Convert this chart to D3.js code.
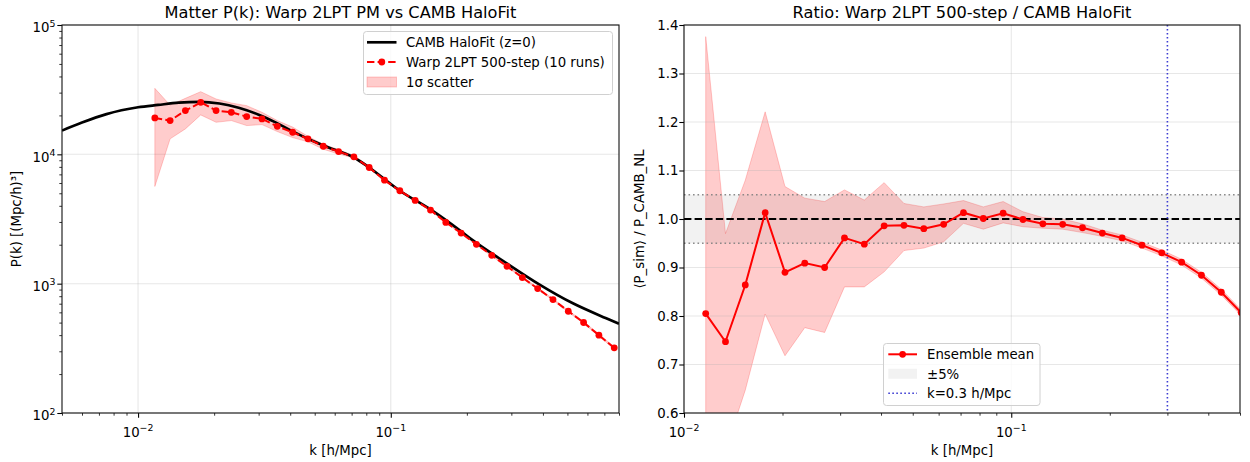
<!DOCTYPE html>
<html><head><meta charset="utf-8">
<script src="https://cdn.jsdelivr.net/npm/d3@7"></script>
<style>
html,body{margin:0;padding:0;background:#fff}
svg{display:block}
svg text{font-family:"DejaVu Sans",sans-serif;fill:#000}
</style></head><body>
<svg id="c" width="1250" height="462"></svg>
<script>
// ---------------- data ----------------
const kBins = [0.01165,0.01339,0.01539,0.01770,0.02035,0.02339,0.02690,0.03093,0.03556,0.04089,
  0.04701,0.05405,0.06214,0.07145,0.08215,0.09445,0.1086,0.1249,0.1436,0.1651,
  0.1898,0.2182,0.2509,0.2884,0.3316,0.3813,0.4384,0.5040,0.5794,0.6662,0.7660];
const simP  = [19120,18230,21780,25230,21780,21130,19570,18790,16470,14810,
  13170,11550,10510,9566,7907,6313,5229,4400,3705,2977,
  2462,2014,1656,1362,1115,917,754,612,501,400,319];
const simLo = [5644,13170,15730,20170,17690,18230,16680,16980,15000,13470,
  12490,10950,10060,9360,7745,6190,5145,4360,3663,2947,
  2430,1988,1634,1344,1100,904,743,603,493,393,313];
const simHi = [32360,24000,27100,30520,26790,24950,23800,21130,18230,16250,
  13790,11940,10890,9800,8110,6460,5307,4457,3742,3002,
  2495,2040,1678,1380,1130,930,765,621,509,407,325];
const cambK = [0.005,0.006,0.0075,0.01,0.012,0.0145,0.0175,0.021,0.025,0.03,
  0.035,0.04,0.05,0.06,0.07145,0.08215,0.1086,0.1436,0.1898,0.2114,
  0.2866,0.388,0.5255,0.712,0.8];
const cambP = [15260,17600,20460,23100,24100,25100,25450,24700,22900,20250,
  17650,15400,12500,10850,9450,7910,5229,3746,2537,2162,
  1444,984,705,540,490];
const ratioMean = [0.805,0.747,0.864,1.013,0.890,0.909,0.900,0.961,0.948,0.986,
  0.987,0.980,0.989,1.013,1.001,1.012,0.999,0.990,0.989,0.982,
  0.971,0.961,0.946,0.930,0.911,0.884,0.849,0.807,0.760,0.710,0.660];
const ratioLo = [0.238,0.524,0.647,0.804,0.718,0.776,0.766,0.860,0.860,0.891,
  0.935,0.940,0.953,0.991,0.979,0.992,0.984,0.981,0.979,0.972,
  0.964,0.955,0.940,0.924,0.905,0.878,0.843,0.801,0.754,0.704,0.654];
const ratioHi = [1.376,0.970,1.080,1.221,1.067,1.043,1.036,1.060,1.039,1.075,
  1.032,1.025,1.031,1.038,1.025,1.036,1.015,1.003,1.000,0.990,
  0.977,0.967,0.952,0.936,0.917,0.890,0.855,0.813,0.766,0.716,0.666];
const leftXMajor = [0.01,0.1];
const leftXMinor = [0.005,0.006,0.007,0.008,0.009,0.02,0.03,0.04,0.05,0.06,0.07,0.08,0.09,0.2,0.3,0.4,0.5,0.6,0.7,0.8];
const leftYMajor = [1e2,1e3,1e4,1e5];
const rightXMajor = [0.01,0.1];
const rightXMinor = [0.02,0.03,0.04,0.05,0.06,0.07,0.08,0.09,0.2,0.3,0.4,0.5];
const rightYTicks = [0.6,0.7,0.8,0.9,1.0,1.1,1.2,1.3,1.4];
const kCut = 0.3;
const bandLo = 0.95, bandHi = 1.05;
const titles = ["Matter P(k): Warp 2LPT PM vs CAMB HaloFit","Ratio: Warp 2LPT 500-step / CAMB HaloFit"];
const legendLeft = ["CAMB HaloFit (z=0)","Warp 2LPT 500-step (10 runs)","1σ scatter"];
const legendRight = ["Ensemble mean","±5%","k=0.3 h/Mpc"];

// ---------------- layout ----------------
const svg = d3.select("#c");
const FS = 13.3;
const L = {x0:62,x1:619,y0:25,y1:413};
const R = {x0:684,x1:1240,y0:25,y1:413};
const xL = d3.scaleLog().domain([0.005,0.8]).range([L.x0,L.x1]);
const yL = d3.scaleLog().domain([1e2,1e5]).range([L.y1,L.y0]);
const xR = d3.scaleLog().domain([0.01,0.5]).range([R.x0,R.x1]);
const yR = d3.scaleLinear().domain([0.6,1.4]).range([R.y1,R.y0]);
const blue = "#3c3cd2";

const defs = svg.append("defs");
[["clipL",L],["clipR",R]].forEach(([id,b])=>{
  defs.append("clipPath").attr("id",id).append("rect")
    .attr("x",b.x0).attr("y",b.y0).attr("width",b.x1-b.x0).attr("height",b.y1-b.y0);
});

const gridCol = "rgba(176,176,176,0.3)";
function grid(g,b,xs,xsc,ys,ysc){
  g.selectAll(null).data(xs).join("line")
    .attr("x1",d=>xsc(d)).attr("x2",d=>xsc(d)).attr("y1",b.y0).attr("y2",b.y1)
    .attr("stroke",gridCol).attr("stroke-width",1.07);
  g.selectAll(null).data(ys).join("line")
    .attr("y1",d=>ysc(d)).attr("y2",d=>ysc(d)).attr("x1",b.x0).attr("x2",b.x1)
    .attr("stroke",gridCol).attr("stroke-width",1.07);
}
function frame(g,b){
  g.append("rect").attr("x",b.x0).attr("y",b.y0).attr("width",b.x1-b.x0).attr("height",b.y1-b.y0)
    .attr("fill","none").attr("stroke","#111").attr("stroke-width",1.1);
}
function sup(sel,base,exp){
  sel.append("tspan").text(base);
  sel.append("tspan").attr("dy",-5.7).attr("font-size",9.4).text(exp);
}

// ================= LEFT PANEL =================
const gl = svg.append("g");
grid(gl,L,leftXMajor,xL,leftYMajor,yL);

const pl = gl.append("g").attr("clip-path","url(#clipL)");
const idx = d3.range(kBins.length);
pl.append("path").datum(idx)
  .attr("d",d3.area().x(i=>xL(kBins[i])).y0(i=>yL(simLo[i])).y1(i=>yL(simHi[i])))
  .attr("fill","rgba(255,0,0,0.2)").attr("stroke","rgba(255,0,0,0.2)").attr("stroke-width",1);
pl.append("path").datum(d3.range(cambK.length))
  .attr("d",d3.line().x(i=>xL(cambK[i])).y(i=>yL(cambP[i])).curve(d3.curveMonotoneX))
  .attr("fill","none").attr("stroke","#000").attr("stroke-width",2.67);
pl.append("path").datum(idx)
  .attr("d",d3.line().x(i=>xL(kBins[i])).y(i=>yL(simP[i])))
  .attr("fill","none").attr("stroke","red").attr("stroke-width",2).attr("stroke-dasharray","7.4,3.2");
pl.selectAll(null).data(idx).join("circle")
  .attr("cx",i=>xL(kBins[i])).attr("cy",i=>yL(simP[i])).attr("r",3.4).attr("fill","red");

// axes ticks
const axL_xmaj = d3.axisBottom(xL).tickValues(leftXMajor).tickSize(4.7).tickFormat(()=>"");
const axL_xmin = d3.axisBottom(xL).tickValues(leftXMinor).tickSize(2.7).tickFormat(()=>"");
const leftYMinor = [];
[1e2,1e3,1e4].forEach(d=>{for(let m=2;m<=9;m++) leftYMinor.push(d*m);});
const axL_ymaj = d3.axisLeft(yL).tickValues(leftYMajor).tickSize(4.7).tickFormat(()=>"");
const axL_ymin = d3.axisLeft(yL).tickValues(leftYMinor).tickSize(2.7).tickFormat(()=>"");
[[axL_xmaj,`translate(0,${L.y1})`,1.07],[axL_xmin,`translate(0,${L.y1})`,0.8],
 [axL_ymaj,`translate(${L.x0},0)`,1.07],[axL_ymin,`translate(${L.x0},0)`,0.8]].forEach(([a,t,w])=>{
  const g = gl.append("g").attr("transform",t).call(a);
  g.select(".domain").remove();
  g.selectAll("line").attr("stroke","#000").attr("stroke-width",w);
});
frame(gl,L);

// tick labels
leftXMajor.forEach(v=>{
  const t = gl.append("text").attr("x",xL(v)).attr("y",436.7).attr("text-anchor","middle").attr("font-size",FS);
  sup(t,"10","−"+Math.round(-Math.log10(v)));
});
leftYMajor.forEach(v=>{
  const t = gl.append("text").attr("x",55.5).attr("y",yL(v)+7.2).attr("text-anchor","end").attr("font-size",FS);
  sup(t,"10",String(Math.round(Math.log10(v))));
});
gl.append("text").attr("x",(L.x0+L.x1)/2).attr("y",455).attr("text-anchor","middle").attr("font-size",FS).text("k [h/Mpc]");
gl.append("text").attr("transform",`translate(21,${(L.y0+L.y1)/2}) rotate(-90)`).attr("text-anchor","middle").attr("font-size",FS).text("P(k) [(Mpc/h)³]");
gl.append("text").attr("x",(L.x0+L.x1)/2).attr("y",18).attr("text-anchor","middle").attr("font-size",16.2).text(titles[0]);

// legend left
const lg = gl.append("g");
lg.append("rect").attr("x",363.5).attr("y",31.5).attr("width",249).attr("height",63).attr("rx",3)
  .attr("fill","rgba(255,255,255,0.8)").attr("stroke","#d0d0d0").attr("stroke-width",1);
const rowsL = [42.3,62,82];
lg.append("line").attr("x1",367).attr("x2",396.5).attr("y1",rowsL[0]).attr("y2",rowsL[0]).attr("stroke","#000").attr("stroke-width",2.67);
lg.append("line").attr("x1",367).attr("x2",396.5).attr("y1",rowsL[1]).attr("y2",rowsL[1]).attr("stroke","red").attr("stroke-width",2).attr("stroke-dasharray","7.4,3.2");
lg.append("circle").attr("cx",381.8).attr("cy",rowsL[1]).attr("r",3.4).attr("fill","red");
lg.append("rect").attr("x",367).attr("y",rowsL[2]-5).attr("width",29.5).attr("height",10)
  .attr("fill","rgba(255,0,0,0.2)").attr("stroke","rgba(255,0,0,0.2)");
legendLeft.forEach((s,i)=>lg.append("text").attr("x",406).attr("y",rowsL[i]+4.8).attr("font-size",FS).text(s));

// ================= RIGHT PANEL =================
const gr = svg.append("g");
const pr = gr.append("g").attr("clip-path","url(#clipR)");
pr.append("path").datum(idx)
  .attr("d",d3.area().x(i=>xR(kBins[i])).y0(i=>yR(ratioLo[i])).y1(i=>yR(ratioHi[i])))
  .attr("fill","rgba(255,0,0,0.2)").attr("stroke","rgba(255,0,0,0.2)").attr("stroke-width",1);
pr.append("rect").attr("x",R.x0).attr("width",R.x1-R.x0)
  .attr("y",yR(bandHi)).attr("height",yR(bandLo)-yR(bandHi)).attr("fill","rgba(128,128,128,0.1)");
grid(gr,R,rightXMajor,xR,rightYTicks,yR);
const pr2 = gr.append("g").attr("clip-path","url(#clipR)");
[bandLo,bandHi].forEach(v=>pr2.append("line").attr("x1",R.x0).attr("x2",R.x1).attr("y1",yR(v)).attr("y2",yR(v))
  .attr("stroke","#808080").attr("stroke-width",1.5).attr("stroke-dasharray","1.6,2.9").attr("opacity",0.9));
pr2.append("line").attr("x1",R.x0).attr("x2",R.x1).attr("y1",yR(1)).attr("y2",yR(1))
  .attr("stroke","#000").attr("stroke-width",2).attr("stroke-dasharray","7.4,3.2");
pr2.append("line").attr("x1",xR(kCut)).attr("x2",xR(kCut)).attr("y1",R.y0).attr("y2",R.y1)
  .attr("stroke",blue).attr("stroke-width",1.6).attr("stroke-dasharray","1.6,2.4");
pr2.append("path").datum(idx)
  .attr("d",d3.line().x(i=>xR(kBins[i])).y(i=>yR(ratioMean[i])))
  .attr("fill","none").attr("stroke","red").attr("stroke-width",2);
pr2.selectAll(null).data(idx).join("circle")
  .attr("cx",i=>xR(kBins[i])).attr("cy",i=>yR(ratioMean[i])).attr("r",3.4).attr("fill","red");

const axR_xmaj = d3.axisBottom(xR).tickValues(rightXMajor).tickSize(4.7).tickFormat(()=>"");
const axR_xmin = d3.axisBottom(xR).tickValues(rightXMinor).tickSize(2.7).tickFormat(()=>"");
const axR_y = d3.axisLeft(yR).tickValues(rightYTicks).tickSize(4.7).tickFormat(()=>"");
[[axR_xmaj,`translate(0,${R.y1})`,1.07],[axR_xmin,`translate(0,${R.y1})`,0.8],[axR_y,`translate(${R.x0},0)`,1.07]].forEach(([a,t,w])=>{
  const g = gr.append("g").attr("transform",t).call(a);
  g.select(".domain").remove();
  g.selectAll("line").attr("stroke","#000").attr("stroke-width",w);
});
frame(gr,R);
rightXMajor.forEach(v=>{
  const t = gr.append("text").attr("x",xR(v)).attr("y",436.7).attr("text-anchor","middle").attr("font-size",FS);
  sup(t,"10","−"+Math.round(-Math.log10(v)));
});
rightYTicks.forEach(v=>gr.append("text").attr("x",678.5).attr("y",yR(v)+4.8).attr("text-anchor","end").attr("font-size",FS).text(d3.format(".1f")(v)));
gr.append("text").attr("x",(R.x0+R.x1)/2).attr("y",455).attr("text-anchor","middle").attr("font-size",FS).text("k [h/Mpc]");
gr.append("text").attr("transform",`translate(644,${(R.y0+R.y1)/2}) rotate(-90)`).attr("text-anchor","middle").attr("font-size",FS).text("⟨P_sim⟩ / P_CAMB_NL");
gr.append("text").attr("x",(R.x0+R.x1)/2).attr("y",18).attr("text-anchor","middle").attr("font-size",16.2).text(titles[1]);

// legend right
const rg = gr.append("g");
rg.append("rect").attr("x",883.5).attr("y",343.5).attr("width",156.5).attr("height",62).attr("rx",3)
  .attr("fill","rgba(255,255,255,0.8)").attr("stroke","#d0d0d0").attr("stroke-width",1);
const rowsR = [354.3,373.8,393.3];
rg.append("line").attr("x1",888.3).attr("x2",917).attr("y1",rowsR[0]).attr("y2",rowsR[0]).attr("stroke","red").attr("stroke-width",2);
rg.append("circle").attr("cx",902.6).attr("cy",rowsR[0]).attr("r",3.4).attr("fill","red");
rg.append("rect").attr("x",888.3).attr("y",rowsR[1]-5).attr("width",28.7).attr("height",10).attr("fill","rgba(128,128,128,0.1)");
rg.append("line").attr("x1",888.3).attr("x2",917).attr("y1",rowsR[2]).attr("y2",rowsR[2])
  .attr("stroke",blue).attr("stroke-width",1.6).attr("stroke-dasharray","1.6,2.4");
legendRight.forEach((s,i)=>rg.append("text").attr("x",927).attr("y",rowsR[i]+4.8).attr("font-size",FS).text(s));
</script>
</body></html>
